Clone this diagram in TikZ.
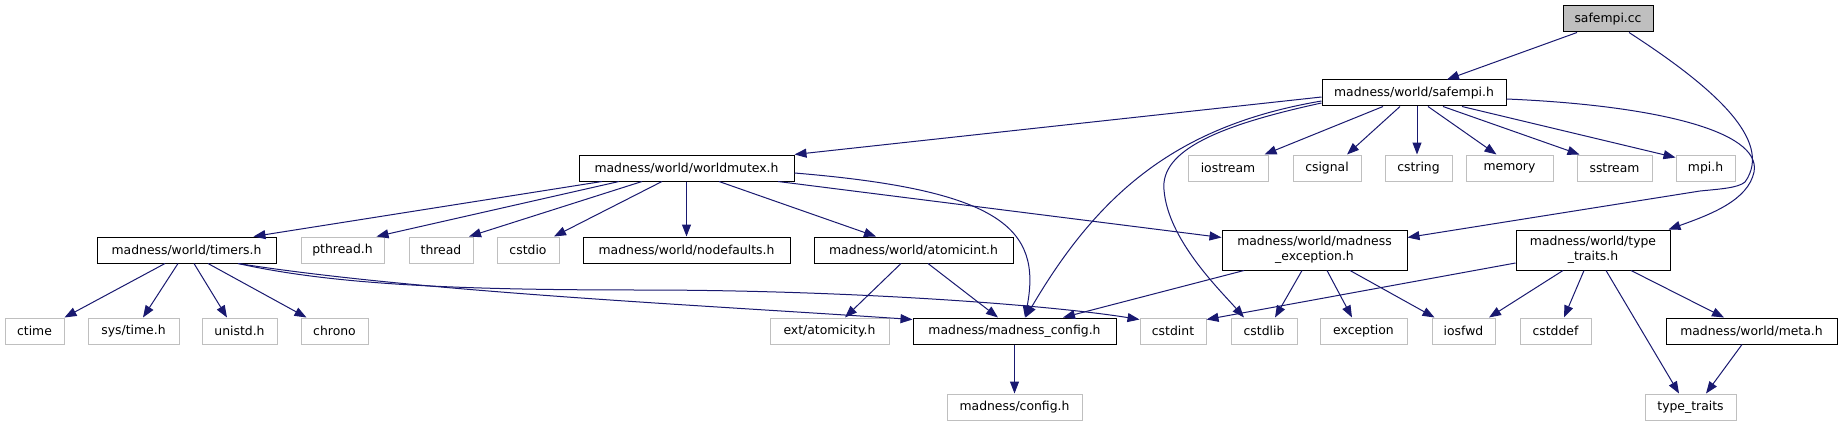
\documentclass[tikz,border=0pt]{standalone}
\usepackage{fontspec}
\setmainfont{DejaVu Sans}
\usetikzlibrary{arrows.meta}
\definecolor{edgeblue}{HTML}{191970}
\definecolor{extgray}{HTML}{BFBFBF}
\begin{document}
\begin{tikzpicture}[x=1pt,y=-1pt,
  box/.style={rectangle, inner sep=0pt, minimum height=26pt, line width=1pt,
    font=\fontsize{12.4}{15}\selectfont, align=center},
  doc/.style={box, draw=black, fill=white},
  ext/.style={box, draw=extgray, fill=white},
  root/.style={box, draw=black, fill=extgray},
  edge/.style={draw=edgeblue, line width=1pt, -{Triangle[length=12pt,width=9pt]}, fill=none}
]
\fill[white] (0,0) rectangle (1843,425);
\useasboundingbox (0,0) rectangle (1843,425);

% row 0 / 1
\node[root, minimum width=90pt] (cc) at (1608,19) {safempi.cc};
\node[doc, minimum width=184pt] (safempi) at (1414,93) {madness/world/safempi.h};

% row 2
\node[doc, minimum width=215pt] (worldmutex) at (686.5,168) {madness/world/worldmutex.h};
\node[ext, minimum width=80pt] (iostream) at (1228,168) {iostream};
\node[ext, minimum width=68pt] (csignal) at (1327,168) {csignal};
\node[ext, minimum width=67pt] (cstring) at (1418.5,168) {cstring};
\node[ext, minimum width=87pt] (memory) at (1509.5,168) {memory};
\node[ext, minimum width=75pt] (sstream) at (1614.5,168) {sstream};
\node[ext, minimum width=59pt] (mpi) at (1705.5,168) {mpi.h};

% row 3
\node[doc, minimum width=179pt] (timers) at (186.5,250) {madness/world/timers.h};
\node[ext, minimum width=83pt] (pthread) at (342.5,250) {pthread.h};
\node[ext, minimum width=64pt] (thread) at (441,250) {thread};
\node[ext, minimum width=62pt] (cstdio) at (528,250) {cstdio};
\node[doc, minimum width=207pt] (nodefaults) at (686.5,250) {madness/world/nodefaults.h};
\node[doc, minimum width=199pt] (atomicint) at (913.5,250) {madness/world/atomicint.h};
\node[doc, minimum width=185pt, minimum height=40pt] (mexc) at (1314.5,250) {madness/world/madness\\\_exception.h};
\node[doc, minimum width=154pt, minimum height=40pt] (ttraitsh) at (1593,250) {madness/world/type\\\_traits.h};

% row 4
\node[ext, minimum width=59pt] (ctime) at (34.5,331) {ctime};
\node[ext, minimum width=91pt] (systime) at (133.5,331) {sys/time.h};
\node[ext, minimum width=75pt] (unistd) at (239.5,331) {unistd.h};
\node[ext, minimum width=67pt] (chrono) at (334.5,331) {chrono};
\node[ext, minimum width=119pt] (atomicity) at (829.5,331) {ext/atomicity.h};
\node[doc, minimum width=203pt] (mconfig) at (1014.5,331) {madness/madness\_config.h};
\node[ext, minimum width=66pt] (cstdint) at (1173,331) {cstdint};
\node[ext, minimum width=66pt] (cstdlib) at (1264,331) {cstdlib};
\node[ext, minimum width=87pt] (exception) at (1363.5,331) {exception};
\node[ext, minimum width=63pt] (iosfwd) at (1463.5,331) {iosfwd};
\node[ext, minimum width=71pt] (cstddef) at (1555.5,331) {cstddef};
\node[doc, minimum width=171pt] (meta) at (1751.5,331) {madness/world/meta.h};

% row 5
\node[ext, minimum width=135pt] (config) at (1014.5,407) {madness/config.h};
\node[ext, minimum width=91pt] (typetraits) at (1690.5,407) {type\_traits};

% edges from safempi.cc
\draw[edge] ([xshift=-31pt]cc.south) -- ([xshift=33pt]safempi.north);
\draw[edge] ([xshift=21pt]cc.south) .. controls (1710,85) and (1775,140) .. (1745,182)
   .. controls (1738,188) and (1720,189) .. (1700,191) -- ([yshift=-8pt]mexc.north east);

% edges from safempi.h
\draw[edge] ([yshift=-6pt]safempi.east) .. controls (1650,105) and (1762,130) .. (1754,172)
   .. controls (1748,200) and (1712,214) .. ([xshift=-2pt]ttraitsh.north east);
\draw[edge] ([yshift=-4pt]safempi.west) -- (worldmutex.north east);
\draw[edge] ([yshift=-8pt]safempi.west) .. controls (1180,125) and (1100,190) .. ([xshift=11pt]mconfig.north);
\draw[edge] ([yshift=-10pt]safempi.west) .. controls (1220,125) and (1160,150) .. (1164,190)
   .. controls (1168,240) and (1220,290) .. ([xshift=-20pt]cstdlib.north);
\draw[edge] ([xshift=-31pt]safempi.south) -- ([xshift=-4pt]iostream.north east);
\draw[edge] ([xshift=-14pt]safempi.south) -- ([xshift=20pt]csignal.north);
\draw[edge] ([xshift=3pt]safempi.south) -- ([xshift=-1.5pt]cstring.north);
\draw[edge] ([xshift=14pt]safempi.south) -- ([xshift=-13pt]memory.north);
\draw[edge] ([xshift=29pt]safempi.south) -- ([xshift=-35pt]sstream.north);
\draw[edge] ([xshift=48pt]safempi.south) -- ([yshift=-3pt]mpi.north west);

% edges from worldmutex.h
\draw[edge] ([xshift=-84.5pt]worldmutex.south) -- ([xshift=-23pt]timers.north east);
\draw[edge] ([xshift=-67.5pt]worldmutex.south) -- ([xshift=34pt]pthread.north);
\draw[edge] ([xshift=-44.5pt]worldmutex.south) -- ([xshift=28pt]thread.north);
\draw[edge] ([xshift=-24.5pt]worldmutex.south) -- ([xshift=26pt]cstdio.north);
\draw[edge] (worldmutex.south) -- (nodefaults.north);
\draw[edge] ([xshift=32.5pt]worldmutex.south) -- ([xshift=-37.5pt]atomicint.north);
\draw[edge] ([xshift=91.5pt]worldmutex.south) -- ([yshift=-8pt]mexc.north west);
\draw[edge] ([yshift=-5pt]worldmutex.east) .. controls (1000,190) and (1042,228) .. ([xshift=10.5pt]mconfig.north);

% edges from timers.h
\draw[edge] ([xshift=-21.5pt]timers.south) -- (ctime.north east);
\draw[edge] ([xshift=-8.5pt]timers.south) -- ([xshift=9.5pt]systime.north);
\draw[edge] ([xshift=7.5pt]timers.south) -- ([xshift=-12.5pt]unistd.north);
\draw[edge] ([xshift=21.5pt]timers.south) -- ([xshift=6pt]chrono.north west);
\draw[edge] ([xshift=51.5pt]timers.south) .. controls (420,292) and (700,305) .. ([yshift=-2pt]mconfig.north west);
\draw[edge] ([xshift=51.5pt]timers.south) .. controls (330,284) and (450,290) .. (640,290)
   .. controls (850,290) and (1050,305) .. ([yshift=-2pt]cstdint.north west);

% edges from atomicint.h
\draw[edge] ([xshift=-12.5pt]atomicint.south) -- ([xshift=15.5pt]atomicity.north);
\draw[edge] ([xshift=14.5pt]atomicint.south) -- ([xshift=-16.5pt]mconfig.north);

% edges from madness_exception.h
\draw[edge] ([xshift=-70.5pt]mexc.south) -- ([xshift=48.5pt]mconfig.north);
\draw[edge] ([xshift=-12.5pt]mexc.south) -- ([xshift=11pt]cstdlib.north);
\draw[edge] ([xshift=12.5pt]mexc.south) -- ([xshift=-11.5pt]exception.north);
\draw[edge] ([xshift=35.5pt]mexc.south) -- ([xshift=3pt]iosfwd.north west);

% edges from type_traits.h
\draw[edge] ([yshift=-13pt]ttraitsh.west) -- ([yshift=-2pt]cstdint.north east);
\draw[edge] ([xshift=-30pt]ttraitsh.south) -- ([xshift=25.5pt]iosfwd.north);
\draw[edge] ([xshift=-9pt]ttraitsh.south) -- ([xshift=8.5pt]cstddef.north);
\draw[edge] ([xshift=13pt]ttraitsh.south) -- ([xshift=-11.5pt]typetraits.north);
\draw[edge] ([xshift=38pt]ttraitsh.south) -- ([xshift=-27.5pt]meta.north);

% others
\draw[edge] ([xshift=-9.5pt]meta.south) -- ([xshift=15.5pt]typetraits.north);
\draw[edge] (mconfig.south) -- (config.north);
\end{tikzpicture}
\end{document}
